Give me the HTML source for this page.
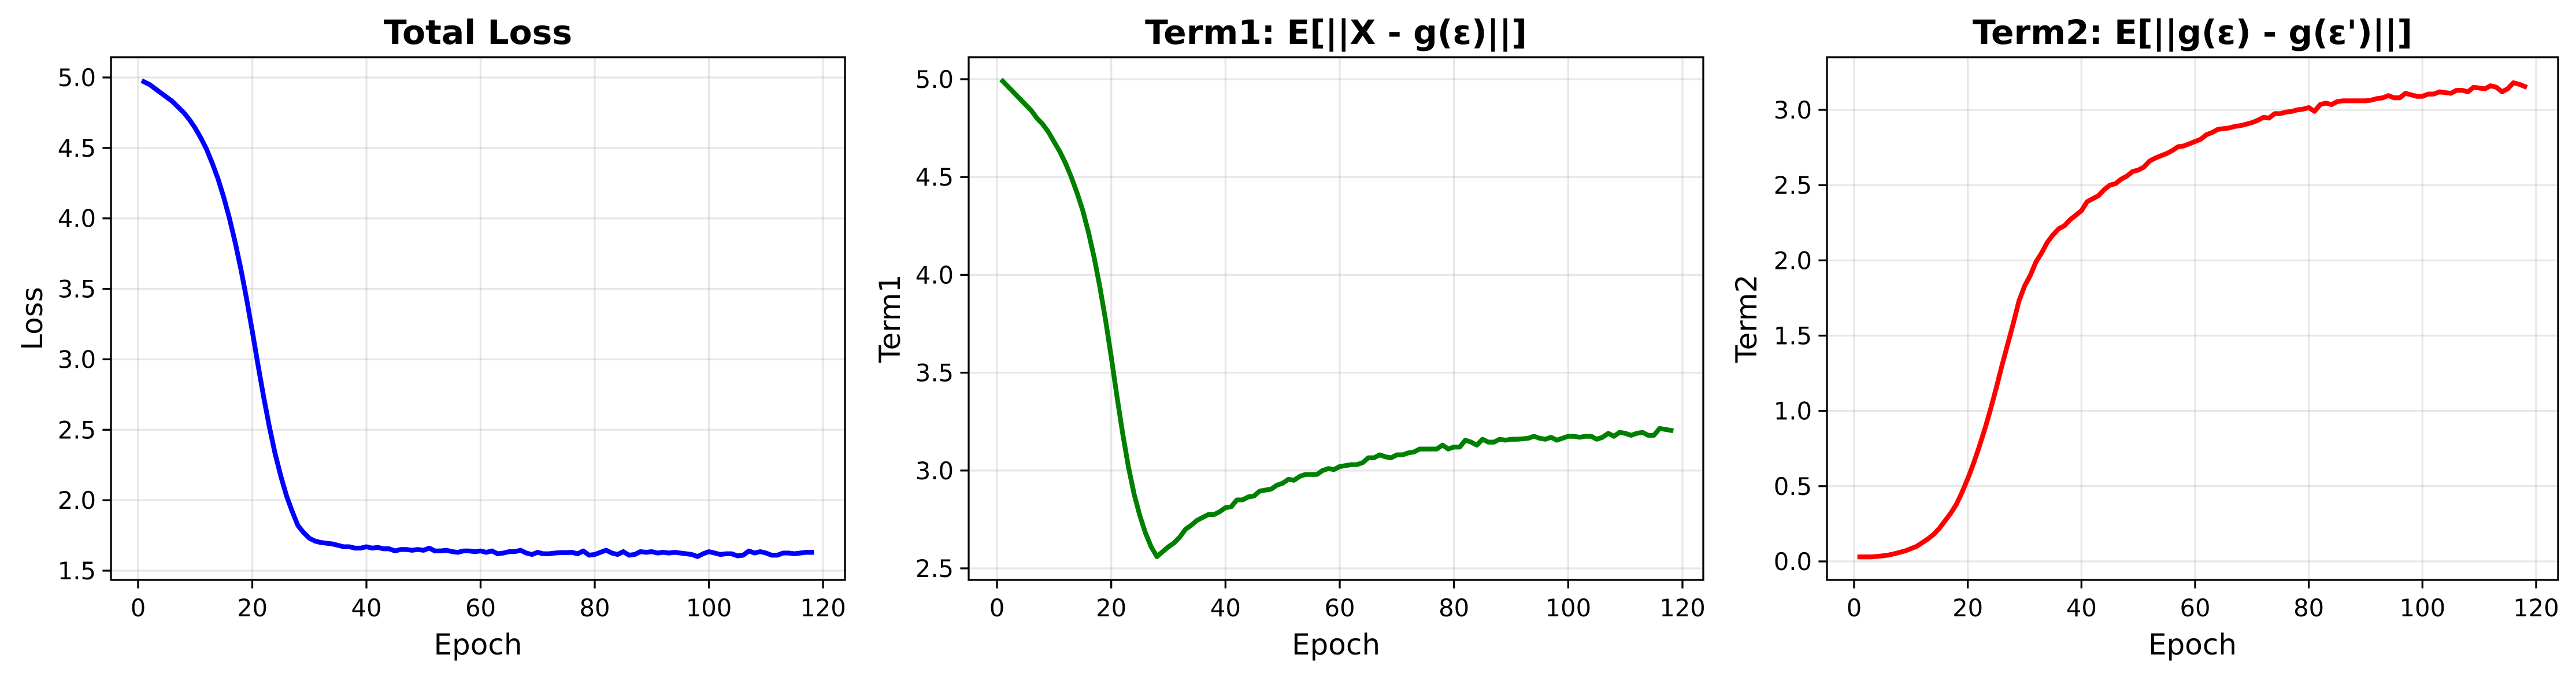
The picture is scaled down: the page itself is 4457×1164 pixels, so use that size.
<!DOCTYPE html>
<html><head><meta charset="utf-8"><style>
html,body{margin:0;padding:0;background:#fff;overflow:hidden;}
svg{display:block;font-family:"DejaVu Sans","Liberation Sans",sans-serif;}
</style></head><body>
<svg id="fig" width="4457" height="1164" viewBox="0 0 4457 1164"></svg>
<script>
const epochs = Array.from({length:118},(_,i)=>i+1);
const totalLoss = [4.97,4.95,4.92,4.89,4.86,4.83,4.79,4.75,4.70,4.64,
4.57,4.49,4.39,4.28,4.15,4.00,3.83,3.64,3.43,3.20,
2.96,2.73,2.52,2.33,2.17,2.03,1.92,1.82,1.77,1.73,
1.71,1.70,1.695,1.69,1.68,1.67,1.67,1.66,1.66,1.67,
1.66,1.665,1.655,1.655,1.64,1.65,1.65,1.645,1.65,1.645,
1.66,1.64,1.64,1.645,1.635,1.63,1.64,1.64,1.635,1.64,
1.63,1.64,1.62,1.625,1.635,1.635,1.645,1.625,1.615,1.63,
1.62,1.62,1.625,1.628,1.628,1.63,1.62,1.64,1.61,1.615,
1.63,1.645,1.625,1.615,1.635,1.61,1.615,1.635,1.63,1.635,
1.625,1.63,1.625,1.63,1.625,1.62,1.615,1.60,1.62,1.635,
1.625,1.615,1.62,1.62,1.605,1.61,1.64,1.625,1.635,1.625,
1.61,1.61,1.625,1.625,1.62,1.625,1.63,1.63];
const term1 = [4.99,4.96,4.93,4.90,4.87,4.84,4.80,4.77,4.73,4.68,
4.63,4.57,4.50,4.42,4.33,4.22,4.09,3.94,3.77,3.58,
3.38,3.19,3.02,2.88,2.77,2.68,2.61,2.56,2.585,2.61,
2.63,2.66,2.70,2.72,2.745,2.76,2.775,2.775,2.79,2.81,
2.815,2.85,2.85,2.865,2.87,2.895,2.90,2.905,2.925,2.935,
2.955,2.95,2.97,2.98,2.98,2.98,3.00,3.01,3.005,3.02,
3.025,3.03,3.03,3.04,3.065,3.065,3.08,3.07,3.065,3.08,
3.08,3.09,3.095,3.11,3.11,3.11,3.11,3.13,3.11,3.12,
3.12,3.155,3.145,3.13,3.16,3.145,3.145,3.16,3.155,3.16,
3.16,3.162,3.165,3.175,3.165,3.16,3.17,3.155,3.165,3.175,
3.175,3.17,3.175,3.175,3.16,3.17,3.19,3.175,3.195,3.19,
3.18,3.19,3.195,3.18,3.18,3.215,3.21,3.205];
const term2 = [0.03,0.03,0.03,0.033,0.037,0.042,0.05,0.06,0.07,0.085,
0.10,0.125,0.15,0.18,0.22,0.27,0.32,0.38,0.46,0.55,
0.65,0.76,0.88,1.01,1.15,1.30,1.44,1.58,1.73,1.83,
1.90,1.99,2.05,2.12,2.17,2.21,2.23,2.27,2.30,2.33,
2.39,2.41,2.43,2.47,2.50,2.51,2.54,2.56,2.59,2.60,
2.62,2.66,2.68,2.695,2.71,2.73,2.755,2.76,2.775,2.79,
2.805,2.835,2.85,2.87,2.875,2.88,2.89,2.895,2.905,2.915,
2.93,2.95,2.945,2.975,2.975,2.985,2.99,3.00,3.005,3.015,
2.99,3.035,3.045,3.035,3.055,3.06,3.06,3.06,3.06,3.06,
3.065,3.075,3.08,3.095,3.08,3.08,3.11,3.10,3.09,3.09,
3.105,3.105,3.12,3.115,3.11,3.13,3.13,3.12,3.15,3.145,
3.14,3.16,3.15,3.12,3.14,3.18,3.17,3.155];
const xTicks = [0,20,40,60,80,100,120];
const yTicksLoss = [1.5,2.0,2.5,3.0,3.5,4.0,4.5,5.0];
const yTicksTerm1 = [2.5,3.0,3.5,4.0,4.5,5.0];
const yTicksTerm2 = [0.0,0.5,1.0,1.5,2.0,2.5,3.0];

const NS="http://www.w3.org/2000/svg";
const svg=document.getElementById('fig');
function mk(tag,attrs,parent){const e=document.createElementNS(NS,tag);for(const k in attrs)e.setAttribute(k,attrs[k]);(parent||svg).appendChild(e);return e;}

const panels=[
 {key:'total-loss',title:'Total Loss',ylabel:'Loss',data:totalLoss,yt:yTicksLoss,color:'#0000ff',
  L:192,R:1462,T:99,B:1003,x0:239,x120:1424,ya:5.0,yaPx:134,yb:1.5,ybPx:987,ylabX:56},
 {key:'term1',title:'Term1: E[||X - g(ε)||]',ylabel:'Term1',data:term1,yt:yTicksTerm1,color:'#008000',
  L:1676,R:2947,T:99,B:1003,x0:1725,x120:2911,ya:5.0,yaPx:137,yb:2.5,ybPx:983,ylabX:1540},
 {key:'term2',title:"Term2: E[||g(ε) - g(ε')||]",ylabel:'Term2',data:term2,yt:yTicksTerm2,color:'#ff0000',
  L:3161,R:4426,T:99,B:1003,x0:3208,x120:4388,ya:0.0,yaPx:971,yb:3.0,ybPx:190,ylabX:3022}
];

panels.forEach(p=>{
  const g=mk('g',{});
  
  
  const xs=v=>p.x0+(v-0)*(p.x120-p.x0)/120;
  const ys=v=>p.yaPx+(v-p.ya)*(p.ybPx-p.yaPx)/(p.yb-p.ya);
  xTicks.forEach(t=>{const l=mk('line',{x1:xs(t),x2:xs(t),y1:p.T,y2:p.B,stroke:'#b0b0b0','stroke-opacity':0.3,'stroke-width':3.3},g);
    });
  p.yt.forEach(t=>{const l=mk('line',{x1:p.L,x2:p.R,y1:ys(t),y2:ys(t),stroke:'#b0b0b0','stroke-opacity':0.3,'stroke-width':3.3},g);
    });
  const d=p.data.map((v,i)=>(i?'L':'M')+xs(epochs[i]).toFixed(1)+','+ys(v).toFixed(1)).join(' ');
  const path=mk('path',{d:d,fill:'none',stroke:p.color,'stroke-width':8.3,'stroke-linejoin':'round','stroke-linecap':'square'},g);
  
  
  const fr=mk('rect',{x:p.L,y:p.T,width:p.R-p.L,height:p.B-p.T,fill:'none',stroke:'#000','stroke-width':3.3},g);
  
  xTicks.forEach(t=>{
    mk('line',{x1:xs(t),x2:xs(t),y1:p.B,y2:p.B+14.6,stroke:'#000','stroke-width':3.3},g);
    const tx=mk('text',{x:xs(t),y:1066,'text-anchor':'middle','font-size':41.7,fill:'#000'},g);
    tx.textContent=t;
    
  });
  p.yt.forEach(t=>{
    mk('line',{x1:p.L-14.6,x2:p.L,y1:ys(t),y2:ys(t),stroke:'#000','stroke-width':3.3},g);
    const tx=mk('text',{x:p.L-26,y:ys(t)+15,'text-anchor':'end','font-size':41.7,fill:'#000'},g);
    tx.textContent=t.toFixed(1);
    
  });
  const cx=(p.L+p.R)/2;
  const ti=mk('text',{x:cx,y:76,'text-anchor':'middle','font-size':58.3,'font-weight':'bold',fill:'#000'},g);
  ti.textContent=p.title;
  
  const xl=mk('text',{x:cx,y:1132,'text-anchor':'middle','font-size':50,fill:'#000'},g);
  xl.textContent='Epoch';
  
  const yc=(p.T+p.B)/2;
  const yl=mk('text',{x:p.ylabX,y:yc,'text-anchor':'middle','font-size':50,fill:'#000',transform:'rotate(-90 '+p.ylabX+' '+yc+')'},g);
  yl.setAttribute('dominant-baseline','central');
  yl.textContent=p.ylabel;
  
});
</script>
</body></html>
